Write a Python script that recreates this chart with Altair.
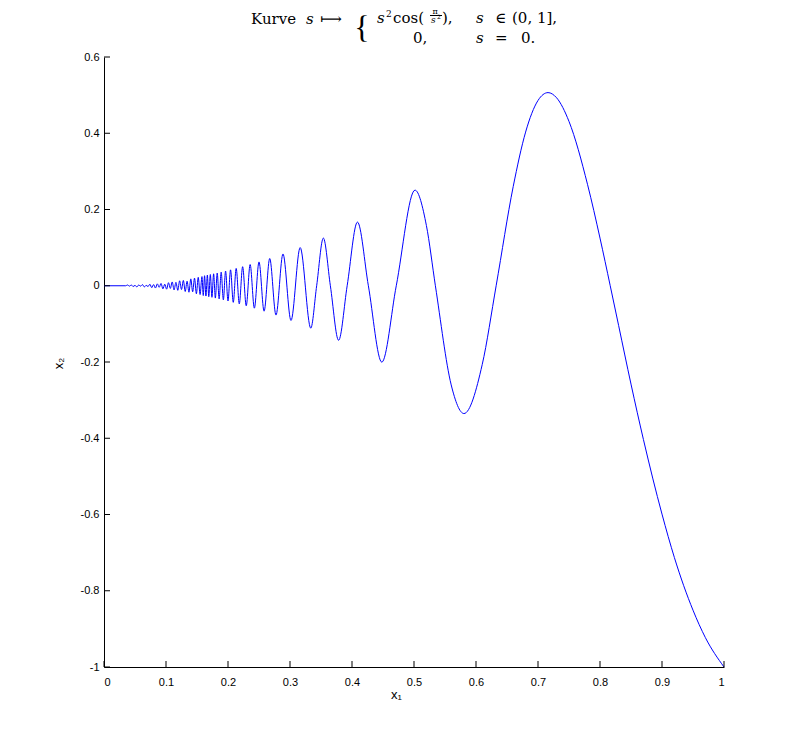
import altair as alt
import pandas as pd

# ---- data ----
# curve points (x1 = s, x2 = value), left to right
x1_vals = [
    0.000, 0.035,
    0.038, 0.041, 0.044, 0.047, 0.050, 0.053, 0.056, 0.059, 0.062, 0.065,
    0.068, 0.071, 0.074, 0.077, 0.080, 0.083, 0.086, 0.089, 0.092, 0.095,
    0.098, 0.101, 0.104, 0.107, 0.110, 0.113, 0.116, 0.119, 0.122, 0.125,
    0.128, 0.131, 0.134, 0.137, 0.140, 0.143, 0.146, 0.149, 0.152, 0.155,
    0.158,
    0.1601, 0.1622, 0.1644, 0.1667, 0.1690, 0.1715, 0.1741, 0.1768, 0.1796,
    0.1826, 0.1857, 0.1890, 0.1925, 0.1961, 0.2000, 0.2041, 0.2085, 0.2132,
    0.2182, 0.2236, 0.2294, 0.2357, 0.2425, 0.2500, 0.2582, 0.2673, 0.2774,
    0.2887, 0.3016, 0.3164, 0.3335, 0.3430, 0.3538, 0.3651, 0.3784, 0.3922,
    0.4088, 0.4264, 0.4481, 0.4714, 0.5016, 0.5200, 0.5345, 0.5600, 0.5806,
    0.6100, 0.6325, 0.6600, 0.6800, 0.7000, 0.7162, 0.7300, 0.7500, 0.7800,
    0.8000, 0.8165, 0.8300, 0.8500, 0.8700, 0.9000, 0.9200, 0.9500, 0.9700,
    1.0000,
]
x2_vals = [
    0.000, 0.000,
    0.002, -0.001, 0.002, -0.002, 0.001, -0.003, 0.002, -0.001, 0.003, -0.003,
    0.001, -0.002, 0.004, -0.005, 0.003, -0.006, 0.005, -0.004, 0.006, -0.008,
    0.004, -0.009, 0.008, -0.007, 0.010, -0.011, 0.009, -0.012, 0.013, -0.010,
    0.014, -0.015, 0.012, -0.017, 0.018, -0.016, 0.020, -0.021, 0.022, -0.023,
    0.024,
    -0.0256, 0.0263, -0.0270, 0.0278, -0.0286, 0.0294, -0.0303, 0.0313, -0.0323,
    0.0333, -0.0345, 0.0357, -0.0370, 0.0385, -0.0400, 0.0417, -0.0435, 0.0455,
    -0.0476, 0.0500, -0.0526, 0.0556, -0.0588, 0.0625, -0.0667, 0.0714, -0.0769,
    0.0834, -0.0910, 0.1001, -0.1112, 0.0000, 0.1251, 0.0000, -0.1430, 0.0000,
    0.1669, 0.0000, -0.2004, 0.0000, 0.2508, 0.1580, 0.0000, -0.2600, -0.3352,
    -0.2070, 0.0000, 0.2600, 0.4030, 0.4860, 0.5066, 0.4930, 0.4310, 0.2650,
    0.1250, 0.0000, -0.1040, -0.2580, -0.4030, -0.5990, -0.7130, -0.8510, -0.9230,
    -1.0000,
]

x_ticks = [0, 0.1, 0.2, 0.3, 0.4, 0.5, 0.6, 0.7, 0.8, 0.9, 1]
y_ticks = [-1, -0.8, -0.6, -0.4, -0.2, 0, 0.2, 0.4, 0.6]

x_label = "x\u2081"
y_label = "x\u2082"

# ---- layout ----
W, H = 620, 610
OX, OY = 104, 57  # page position of plot origin

curve = pd.DataFrame({"x1": x1_vals, "x2": x2_vals})
xt = pd.DataFrame({"t": x_ticks})
yt = pd.DataFrame({"t": y_ticks})

xscale = alt.Scale(domain=[0, 1], nice=False, zero=False)
yscale = alt.Scale(domain=[-1, 0.6], nice=False, zero=False)

axis_common = dict(
    grid=False, ticks=False, tickSize=0, domainColor="black", domainWidth=1,
    labelFont="Liberation Sans", labelFontSize=11, labelColor="black",
    titleFont="Liberation Sans", titleFontSize=13, titleFontWeight="normal",
    titleColor="black", labelExpr="'' + datum.value",
)

line = alt.Chart(curve).mark_line(
    color="#0000ff", strokeWidth=1, interpolate="monotone", clip=False
).encode(
    x=alt.X("x1:Q", scale=xscale,
            axis=alt.Axis(values=x_ticks, labelPadding=9, title=x_label,
                          titleX=292, titleY=31, titleBaseline="alphabetic",
                          titleAlign="center", **axis_common)),
    y=alt.Y("x2:Q", scale=yscale,
            axis=alt.Axis(values=y_ticks, labelPadding=5, title=y_label,
                          titleX=-42, titleY=306, titleAngle=-90,
                          titleBaseline="alphabetic", titleAlign="center",
                          **axis_common)),
)

xtick_marks = alt.Chart(xt).mark_rule(color="black", strokeWidth=1).encode(
    x=alt.X("t:Q", scale=xscale), y=alt.value(H), y2=alt.value(H - 6)
)
ytick_marks = alt.Chart(yt).mark_rule(color="black", strokeWidth=1).encode(
    y=alt.Y("t:Q", scale=yscale), x=alt.value(0), x2=alt.value(6)
)

# title pieces: (text, page x, page y, size, style, align)
SERIF = "DejaVu Serif"
title_pieces = [
    ("Kurve", 251, 24, 15, "normal", "left"),
    ("s", 306, 24, 15, "italic", "left"),
    ("\u27fc", 331, 24, 15, "normal", "center"),
    ("s", 377, 23, 15, "italic", "left"),
    ("2", 386, 17, 9, "normal", "left"),
    ("cos(", 393, 23, 15, "normal", "left"),
    ("\u03c0", 435, 14, 8, "normal", "center"),
    ("s", 431, 23, 9, "italic", "left"),
    ("2", 437, 19, 6, "normal", "left"),
    ("),", 442, 23, 15, "normal", "left"),
    ("s", 476, 23, 15, "italic", "left"),
    ("\u2208", 495, 23, 15, "normal", "left"),
    ("(0, 1],", 512, 23, 15, "normal", "left"),
    ("0,", 413, 43, 15, "normal", "left"),
    ("s", 476, 43, 15, "italic", "left"),
    ("=", 495, 43, 15, "normal", "left"),
    ("0.", 521, 43, 15, "normal", "left"),
]
one = pd.DataFrame({"a": [0]})
title_layers = []
for txt, px, py, size, style, align in title_pieces:
    title_layers.append(
        alt.Chart(one).mark_text(
            text=txt, font=SERIF, fontSize=size, fontStyle=style, align=align,
            baseline="alphabetic", color="black"
        ).encode(x=alt.value(px - OX), y=alt.value(py - OY))
    )
brace = alt.Chart(one).mark_text(
    text="{", font="Liberation Serif", fontSize=32, align="center",
    baseline="middle", color="black"
).encode(x=alt.value(362 - OX), y=alt.value(28 - OY))
frac_bar = alt.Chart(one).mark_rule(color="black", strokeWidth=1).encode(
    x=alt.value(430 - OX), x2=alt.value(442 - OX), y=alt.value(15.5 - OY)
)

chart = alt.layer(
    line, xtick_marks, ytick_marks, brace, frac_bar, *title_layers
).properties(
    width=W, height=H,
    autosize=alt.AutoSizeParams(type="none"),
    padding={"left": OX - 8, "top": OY - 8, "right": 56, "bottom": 60},
    background="white",
).configure_view(stroke=None)

chart.save("out.html", embed_options={"renderer": "svg", "actions": False})
